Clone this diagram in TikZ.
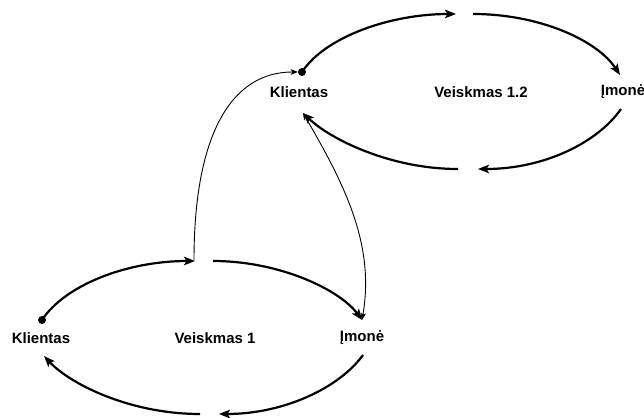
\documentclass[tikz,border=0pt]{standalone}
\usepackage{fontspec}
\setmainfont{Liberation Sans}
\usetikzlibrary{arrows.meta}
\begin{document}
\begin{tikzpicture}[x=1pt,y=1pt,
  label/.style={font=\fontsize{15}{18}\selectfont\bfseries, inner sep=0pt},
  flow/.style={line width=2.2pt, -{Stealth[length=11pt,width=8.5pt,inset=2.5pt]}},
  link/.style={line width=0.9pt, -{Stealth[length=7pt,width=5.5pt,inset=1.5pt]}},
  biLink/.style={line width=0.9pt, {Stealth[length=7pt,width=5.5pt,inset=1.5pt]}-{Stealth[length=7pt,width=5.5pt,inset=1.5pt]}},
  startDot/.style={circle, fill=black, inner sep=0pt, minimum size=8pt}]
\useasboundingbox (0,0) rectangle (644,417);

% ---- upper cycle: Veiskmas 1.2 ----
\node[label] (K2) at (299,325) {Klientas};
\node[label] (V2) at (481,325) {Veiskmas 1.2};
\node[label] (I2) at (623,325) {Įmonė};
\node[startDot] (d2) at (302,345) {};
\coordinate (a2) at (456,403);
\coordinate (b2) at (473,403);
\coordinate (c2) at (620,342);
\coordinate (e2) at (621,308);
\coordinate (f2) at (478,248);
\coordinate (g2) at (458,248);
\coordinate (h2) at (303,304);

\draw[flow] (d2.center) .. controls (325,380) and (390,403) .. (a2);
\draw[flow] (b2) .. controls (539,403) and (597,377) .. (c2);
\draw[flow] (e2) .. controls (598,275) and (545,248) .. (f2);
\draw[flow] (g2) .. controls (390,248) and (330,278) .. (h2);

% ---- lower cycle: Veiskmas 1 ----
\node[label] (K1) at (41,79) {Klientas};
\node[label] (V1) at (215,79) {Veiskmas 1};
\node[label] (I1) at (362,79) {Įmonė};
\node[startDot] (d1) at (42,97) {};
\coordinate (a1) at (195,156);
\coordinate (b1) at (213,156);
\coordinate (c1) at (362,97);
\coordinate (e1) at (363,62);
\coordinate (f1) at (219,3);
\coordinate (g1) at (200,3);
\coordinate (h1) at (44,61);

\draw[flow] (d1.center) .. controls (65,132) and (127,156) .. (a1);
\draw[flow] (b1) .. controls (280,156) and (340,127) .. (c1);
\draw[flow] (e1) .. controls (340,30) and (285,3) .. (f1);
\draw[flow] (g1) .. controls (130,3) and (70,33) .. (h1);

% ---- links between the two cycles ----
\coordinate (t1) at (194,157);
\draw[link] (t1) .. controls (194,280) and (230,345) .. (d2.west);
\draw[biLink] (h2) .. controls (345,232) and (375,172) .. (c1);
\end{tikzpicture}
\end{document}
